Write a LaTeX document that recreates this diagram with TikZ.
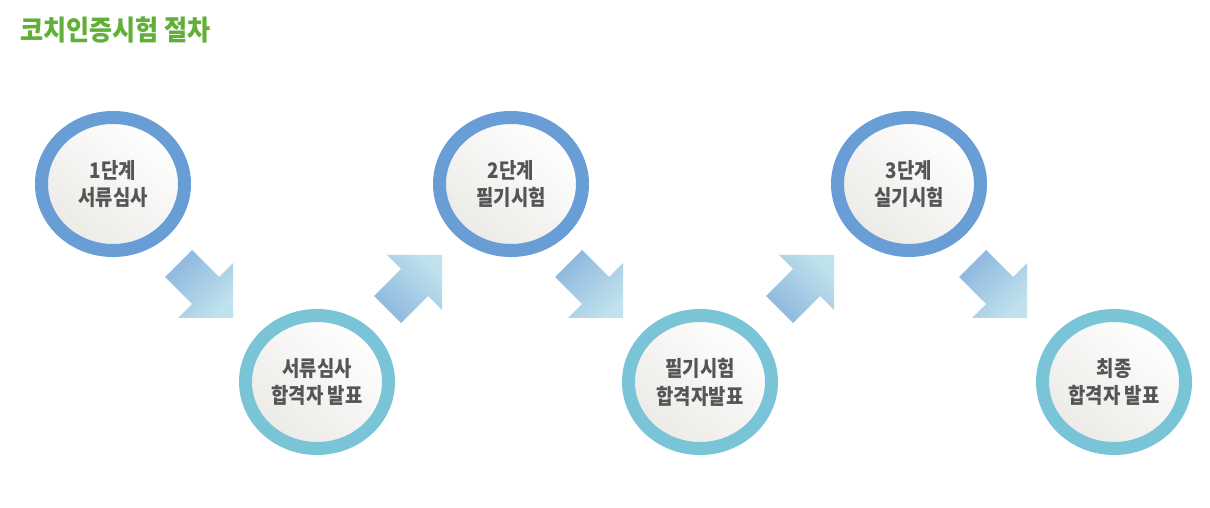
\documentclass[tikz,border=0pt]{standalone}
\usepackage{fontspec}
\usetikzlibrary{shapes.geometric}
\newfontfamily\krs{Noto Sans CJK KR}[FakeStretch=0.88]
\newfontfamily\krt{Noto Sans CJK KR}[FakeStretch=0.9]
\definecolor{titlegreen}{RGB}{96,176,56}
\definecolor{ringblue}{RGB}{104,157,214}
\definecolor{ringcyan}{RGB}{122,196,216}
\definecolor{txtgrey}{RGB}{85,85,85}
\definecolor{discgrey}{RGB}{236,234,230}
\definecolor{arrdark}{RGB}{140,182,222}
\definecolor{arrlight}{RGB}{192,226,236}
\tikzset{
  stage/.style={ellipse, minimum width=143bp, minimum height=133bp, line width=13bp,
    inner sep=0pt, align=center, text=txtgrey,
    font=\krs\bfseries\fontsize{21.5}{28}\selectfont,
    top color=white, bottom color=discgrey, shading angle=-40},
  upperstage/.style={stage, draw=ringblue},
  lowerstage/.style={stage, draw=ringcyan},
  downarrow/.style={top color=arrdark, bottom color=arrlight, shading angle=45},
  uparrow/.style={top color=arrlight, bottom color=arrdark, shading angle=-45},
}
\begin{document}
\begin{tikzpicture}[x=1bp,y=-1bp]
\useasboundingbox (0,0) rectangle (1210,508);
\fill[white] (0,0) rectangle (1210,508);
\node[anchor=west, text=titlegreen, font=\krt\bfseries\fontsize{28}{30}\selectfont, inner sep=0pt] (title) at (20,30) {코치인증시험 절차};

\node[upperstage] (s1) at (113,184) {1단계\\서류심사};
\node[lowerstage] (r1) at (317,382) {서류심사\\합격자 발표};
\node[upperstage] (s2) at (511,184) {2단계\\필기시험};
\node[lowerstage] (r2) at (700,382) {필기시험\\합격자발표};
\node[upperstage] (s3) at (909,184) {3단계\\실기시험};
\node[lowerstage] (r3) at (1114,382) {최종\\합격자 발표};

\coordinate (a1) at (233,318);
\coordinate (a2) at (442,255);
\coordinate (a3) at (623,318);
\coordinate (a4) at (834,255);
\coordinate (a5) at (1027,318);

\foreach \c in {a1,a3,a5}{
  \begin{scope}[shift={(\c)}]
    \shade[downarrow] (0,0) -- (0,-55) -- (-14,-41) -- (-41,-68) -- (-68,-41) -- (-41,-14) -- (-55,0) -- cycle;
  \end{scope}
}
\foreach \c in {a2,a4}{
  \begin{scope}[shift={(\c)}]
    \shade[uparrow] (0,0) -- (0,55) -- (-14,41) -- (-41,68) -- (-68,41) -- (-41,14) -- (-55,0) -- cycle;
  \end{scope}
}
\end{tikzpicture}
\end{document}
